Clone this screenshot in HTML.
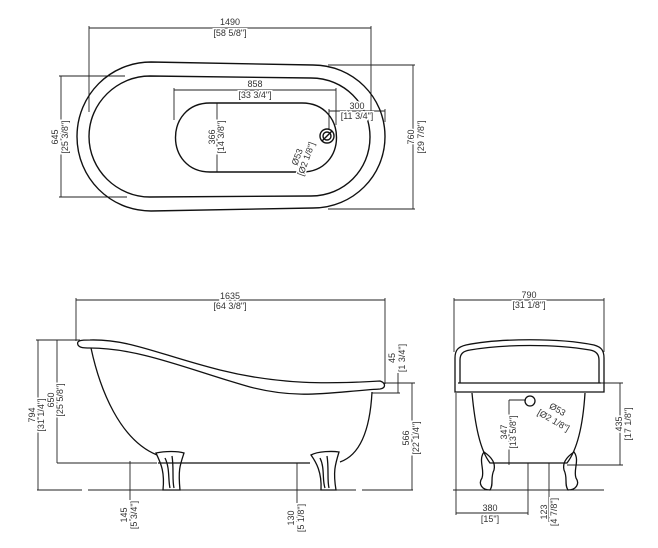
<!DOCTYPE html>
<html><head><meta charset="utf-8"><style>
html,body{margin:0;padding:0;background:#fff;}
svg{display:block;}
text{font-family:"Liberation Sans",sans-serif;font-size:9px;fill:#333;stroke:#fff;stroke-width:3px;paint-order:stroke;}
</style></head><body>
<svg width="658" height="548" viewBox="0 0 658 548" xmlns="http://www.w3.org/2000/svg">
<g fill="none" stroke="#222" stroke-width="0.9">
<!-- TOP VIEW dims -->
<line x1="89" y1="28" x2="371" y2="28"/>
<line x1="89" y1="26" x2="89" y2="112"/>
<line x1="371" y1="26" x2="371" y2="112"/>
<line x1="61" y1="76" x2="61" y2="197"/>
<line x1="59" y1="76" x2="125" y2="76"/>
<line x1="59" y1="197" x2="127" y2="197"/>
<line x1="413" y1="65" x2="413" y2="209"/>
<line x1="328" y1="65" x2="415" y2="65"/>
<line x1="328" y1="209" x2="415" y2="209"/>
<line x1="174" y1="90" x2="336" y2="90"/>
<line x1="174" y1="88" x2="174" y2="120"/>
<line x1="336" y1="88" x2="336" y2="125"/>
<line x1="217" y1="103" x2="217" y2="172"/>
<line x1="329" y1="111" x2="385" y2="111"/>
<line x1="329" y1="109" x2="329" y2="130"/>
<line x1="385" y1="109" x2="385" y2="122"/>
</g>
<g fill="none" stroke="#111" stroke-width="1.4">
<!-- outer oval -->
<path d="M151,62 L313,65 C353,65 385,97 385,136.5 C385,176 353,208 313,208 L151,211 C110,211 77,178 77,136.5 C77,95 110,62 151,62 Z"/>
<!-- inner oval -->
<path d="M150,76 L311,78 C344,78 370,104 370,137 C370,170 344,196 311,196 L150,197 C117,197 89,170 89,136.5 C89,103 117,76 150,76 Z"/>
<!-- basin -->
<path d="M210,103 L302,103 C348,103 348,172 302,172 L210,172 C164,172 164,103 210,103 Z"/>
<circle cx="327" cy="136" r="7"/>
<circle cx="327" cy="136" r="4"/>
<line x1="322" y1="141" x2="332" y2="131"/>
</g>
<text x="230" y="25" text-anchor="middle">1490</text>
<text x="230" y="36" text-anchor="middle">[58 5/8"]</text>
<text x="255" y="87" text-anchor="middle">858</text>
<text x="255" y="98" text-anchor="middle">[33 3/4"]</text>
<text x="357" y="109" text-anchor="middle">300</text>
<text x="357" y="119" text-anchor="middle">[11 3/4"]</text>
<text transform="translate(58,137) rotate(-90)" text-anchor="middle">645</text>
<text transform="translate(68,137) rotate(-90)" text-anchor="middle">[25 3/8"]</text>
<text transform="translate(414,137) rotate(-90)" text-anchor="middle">760</text>
<text transform="translate(424,137) rotate(-90)" text-anchor="middle">[29 7/8"]</text>
<text transform="translate(215,137) rotate(-90)" text-anchor="middle">366</text>
<text transform="translate(224,137) rotate(-90)" text-anchor="middle">[14 3/8"]</text>
<text transform="translate(300,158) rotate(-70)" text-anchor="middle">Ø53</text>
<text transform="translate(309,160) rotate(-70)" text-anchor="middle">[Ø2 1/8"]</text>

<!-- SIDE VIEW -->
<g fill="none" stroke="#222" stroke-width="0.9">
<line x1="76" y1="300" x2="385" y2="300"/>
<line x1="76" y1="298" x2="76" y2="341"/>
<line x1="385" y1="298" x2="385" y2="384"/>
<line x1="38" y1="340" x2="38" y2="490"/>
<line x1="36" y1="340" x2="80" y2="340"/>
<line x1="57" y1="340" x2="57" y2="463"/>
<line x1="57" y1="463" x2="157" y2="463"/>
<line x1="130" y1="461" x2="130" y2="522"/>
<line x1="297" y1="463" x2="297" y2="522"/>
<line x1="398" y1="383" x2="398" y2="393"/>
<line x1="383" y1="383" x2="415" y2="383"/>
<line x1="372" y1="393" x2="400" y2="393"/>
<line x1="398" y1="372" x2="398" y2="383"/>
<line x1="412" y1="383" x2="412" y2="490"/>
<line x1="37" y1="490" x2="82" y2="490"/>
<line x1="88" y1="490" x2="356" y2="490"/>
<line x1="362" y1="490" x2="413" y2="490"/>
</g>
<g fill="none" stroke="#111" stroke-width="1.3">
<path d="M78,345 C76,340 82,340 90,340 C130,339 160,355 220,370 C280,385 330,384 380,381 C386,383 386,388 380,389 C330,392 300,400 250,387 C190,370 140,348 90,348 C84,348 80,348 78,345 Z"/>
<path d="M91,348 C100,390 120,440 157,455"/>
<path d="M372,392 C370,430 360,455 340,462"/>
<path d="M158,463 L310,463"/>
<path d="M156,453 C165,451 178,451 184,453 C180,465 178,470 180,490 L163,490 C165,470 160,462 156,453 Z"/>
<path d="M165,458 C170,468 168,480 170,488 M172,456 C174,468 172,480 174,488"/>
<path d="M311,455 C318,451 333,451 339,452 C335,465 333,472 336,490 L321,490 C322,472 316,462 311,455 Z"/>
<path d="M320,458 C325,468 322,480 325,488 M327,456 C329,468 327,480 329,488"/>
</g>
<text x="230" y="299" text-anchor="middle">1635</text>
<text x="230" y="309" text-anchor="middle">[64 3/8"]</text>
<text transform="translate(35,415) rotate(-90)" text-anchor="middle">794</text>
<text transform="translate(44,415) rotate(-90)" text-anchor="middle">[31 1/4"]</text>
<text transform="translate(54,400) rotate(-90)" text-anchor="middle">650</text>
<text transform="translate(63,400) rotate(-90)" text-anchor="middle">[25 5/8"]</text>
<text transform="translate(395,358) rotate(-90)" text-anchor="middle">45</text>
<text transform="translate(405,358) rotate(-90)" text-anchor="middle">[1 3/4"]</text>
<text transform="translate(409,438) rotate(-90)" text-anchor="middle">566</text>
<text transform="translate(419,438) rotate(-90)" text-anchor="middle">[22 1/4"]</text>
<text transform="translate(127,515) rotate(-90)" text-anchor="middle">145</text>
<text transform="translate(137,515) rotate(-90)" text-anchor="middle">[5 3/4"]</text>
<text transform="translate(294,518) rotate(-90)" text-anchor="middle">130</text>
<text transform="translate(304,518) rotate(-90)" text-anchor="middle">[5 1/8"]</text>

<!-- FRONT VIEW -->
<g fill="none" stroke="#222" stroke-width="0.9">
<line x1="454" y1="300" x2="604" y2="300"/>
<line x1="454" y1="298" x2="454" y2="352"/>
<line x1="604" y1="298" x2="604" y2="352"/>
<line x1="456" y1="393" x2="456" y2="515"/>
<line x1="456" y1="513" x2="528" y2="513"/>
<line x1="528" y1="463" x2="528" y2="515"/>
<line x1="549" y1="463" x2="549" y2="522"/>
<line x1="620" y1="383" x2="620" y2="465"/>
<line x1="600" y1="383" x2="623" y2="383"/>
<line x1="567" y1="465" x2="623" y2="465"/>
<line x1="509" y1="400" x2="526" y2="400"/>
<line x1="509" y1="400" x2="509" y2="465"/>
<line x1="453" y1="490" x2="604" y2="490"/>
</g>
<g fill="none" stroke="#111" stroke-width="1.3">
<path d="M455,392 L455,358 C455,350 458,347 466,345 C500,338 560,338 594,345 C601,347 604,350 604,358 L604,392 Z"/>
<path d="M460,383 L460,360 C460,354 463,351 470,350 C505,344 555,344 590,350 C596,351 599,354 599,360 L599,383"/>
<line x1="458" y1="383" x2="601" y2="383"/>
<path d="M472,393 C475,425 480,450 490,463 L567,463 C577,450 583,425 585,393"/>
<circle cx="530" cy="401" r="5"/>
<path d="M484,452 C478,460 485,470 482,478 C478,484 482,490 490,490 C494,484 490,478 494,470 C496,462 490,456 484,452 Z"/>
<path d="M574,452 C580,460 573,470 576,478 C580,484 576,490 568,490 C564,484 568,478 564,470 C562,462 568,456 574,452 Z"/>
</g>
<text x="529" y="298" text-anchor="middle">790</text>
<text x="529" y="308" text-anchor="middle">[31 1/8"]</text>
<text x="490" y="511" text-anchor="middle">380</text>
<text x="490" y="522" text-anchor="middle">[15"]</text>
<text transform="translate(547,512) rotate(-90)" text-anchor="middle">123</text>
<text transform="translate(557,512) rotate(-90)" text-anchor="middle">[4 7/8"]</text>
<text transform="translate(507,432) rotate(-90)" text-anchor="middle">347</text>
<text transform="translate(516,432) rotate(-90)" text-anchor="middle">[13 5/8"]</text>
<text transform="translate(622,424) rotate(-90)" text-anchor="middle">435</text>
<text transform="translate(631,424) rotate(-90)" text-anchor="middle">[17 1/8"]</text>
<text transform="translate(556,412) rotate(30)" text-anchor="middle">Ø53</text>
<text transform="translate(552,423) rotate(30)" text-anchor="middle">[Ø2 1/8"]</text>
</svg>
</body></html>
